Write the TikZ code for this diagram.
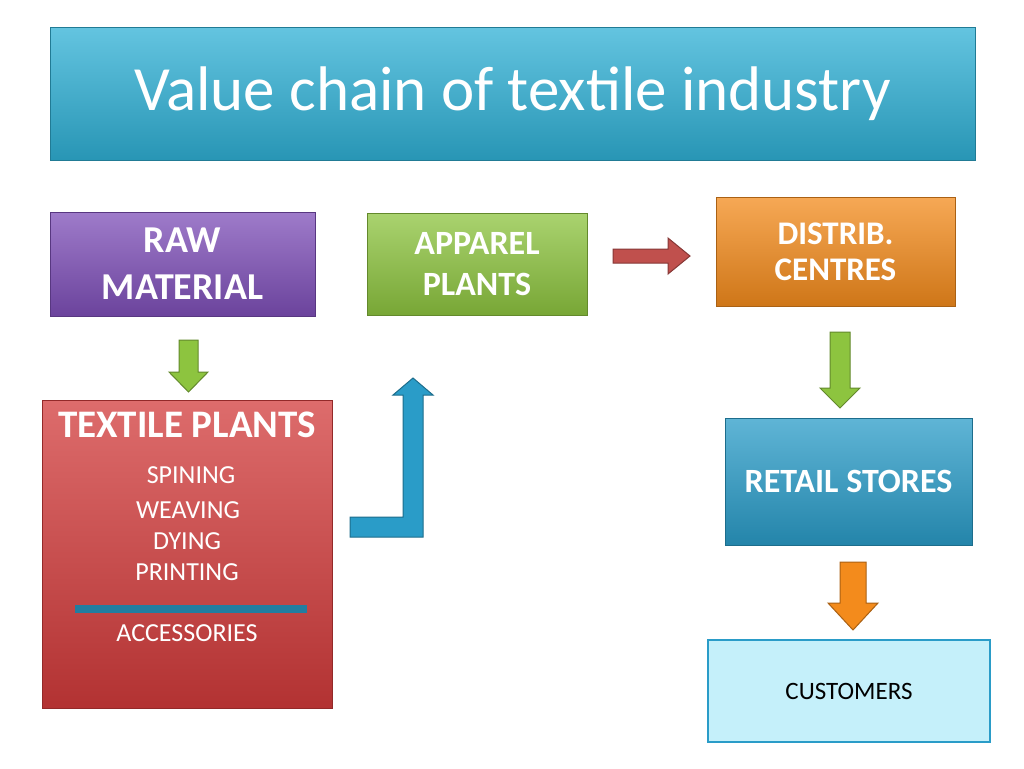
\documentclass[tikz,border=0pt]{standalone}
\usepackage{fontspec}
\setmainfont{Carlito}
\begin{document}
\begin{tikzpicture}[x=1pt,y=-1pt]
\tikzset{
 box/.style={draw=#1!70!black, line width=1pt, top color=#1!75!white, bottom color=#1!85!black, text=white, align=center, inner sep=0pt},
 lbl/.style={text=white, align=center},
 item/.style={text=white, font=\fontsize{26}{30}\selectfont},
 arr/.style={line width=1pt}
}
\definecolor{cyanT}{HTML}{2FB0D5}
\definecolor{purp}{HTML}{7E4FB8}
\definecolor{grn}{HTML}{8DC43F}
\definecolor{org}{HTML}{F38B1C}
\definecolor{redb}{HTML}{D23B3B}
\definecolor{blu}{HTML}{2A9CC8}
\definecolor{darkred}{HTML}{C0504D}
\definecolor{lcy}{HTML}{C5F0FA}
\useasboundingbox (0,0) rectangle (1024,768);
\fill[white] (0,0) rectangle (1024,768);
\node[box=cyanT, minimum width=925pt, minimum height=132pt, font=\fontsize{63}{70}\selectfont] (title) at (512.5,94) {Value chain of textile industry};
\node[box=purp, minimum width=265pt, minimum height=104pt, font=\bfseries\fontsize{38}{47}\selectfont] (raw) at (182.5,264) {RAW\\MATERIAL};
\node[box=grn, minimum width=220pt, minimum height=102pt, font=\bfseries\fontsize{34}{41}\selectfont] (app) at (477,264) {APPAREL\\PLANTS};
\node[box=org, minimum width=239pt, minimum height=109pt, font=\bfseries\fontsize{33}{36}\selectfont] (dist) at (835.5,252) {DISTRIB.\\CENTRES};
\node[box=redb, minimum width=290pt, minimum height=308pt] (tex) at (187,554) {};
\node[lbl, font=\bfseries\fontsize{39}{44}\selectfont] (textitle) at (187,425) {TEXTILE PLANTS};
\node[item] (i1) at (191,475) {SPINING};
\node[item] (i2) at (188,510) {WEAVING};
\node[item] (i3) at (187,541) {DYING};
\node[item] (i4) at (187,572) {PRINTING};
\fill[blu!80!black] (75,605) rectangle (307,613);
\node[item] (i5) at (187,633) {ACCESSORIES};
\node[box=blu, minimum width=247pt, minimum height=127pt, font=\bfseries\fontsize{34}{40}\selectfont] (ret) at (848.5,481.5) {RETAIL STORES};
\node[draw=blu, line width=1.5pt, fill=lcy, minimum width=282pt, minimum height=102pt, font=\fontsize{25}{30}\selectfont] (cust) at (849,691) {CUSTOMERS};
\draw[arr, draw=darkred!70!black, fill=darkred] (613,249) -- (668,249) -- (668,238) -- (690,256) -- (668,274) -- (668,263) -- (613,263) -- cycle;
\draw[arr, draw=grn!70!black, fill=grn] (179,340) -- (198,340) -- (198,372) -- (208,372) -- (188.5,392) -- (169,372) -- (179,372) -- cycle;
\draw[arr, draw=grn!70!black, fill=grn] (830,332) -- (850,332) -- (850,388) -- (860,388) -- (840,408) -- (820,388) -- (830,388) -- cycle;
\draw[arr, draw=org!70!black, fill=org] (840,562) -- (866,562) -- (866,603) -- (878,603) -- (853,630) -- (828,603) -- (840,603) -- cycle;
\draw[arr, draw=blu!70!black, fill=blu] (350,517) -- (403,517) -- (403,395) -- (393,395) -- (413,378) -- (433,395) -- (423,395) -- (423,537) -- (350,537) -- cycle;
\end{tikzpicture}
\end{document}
